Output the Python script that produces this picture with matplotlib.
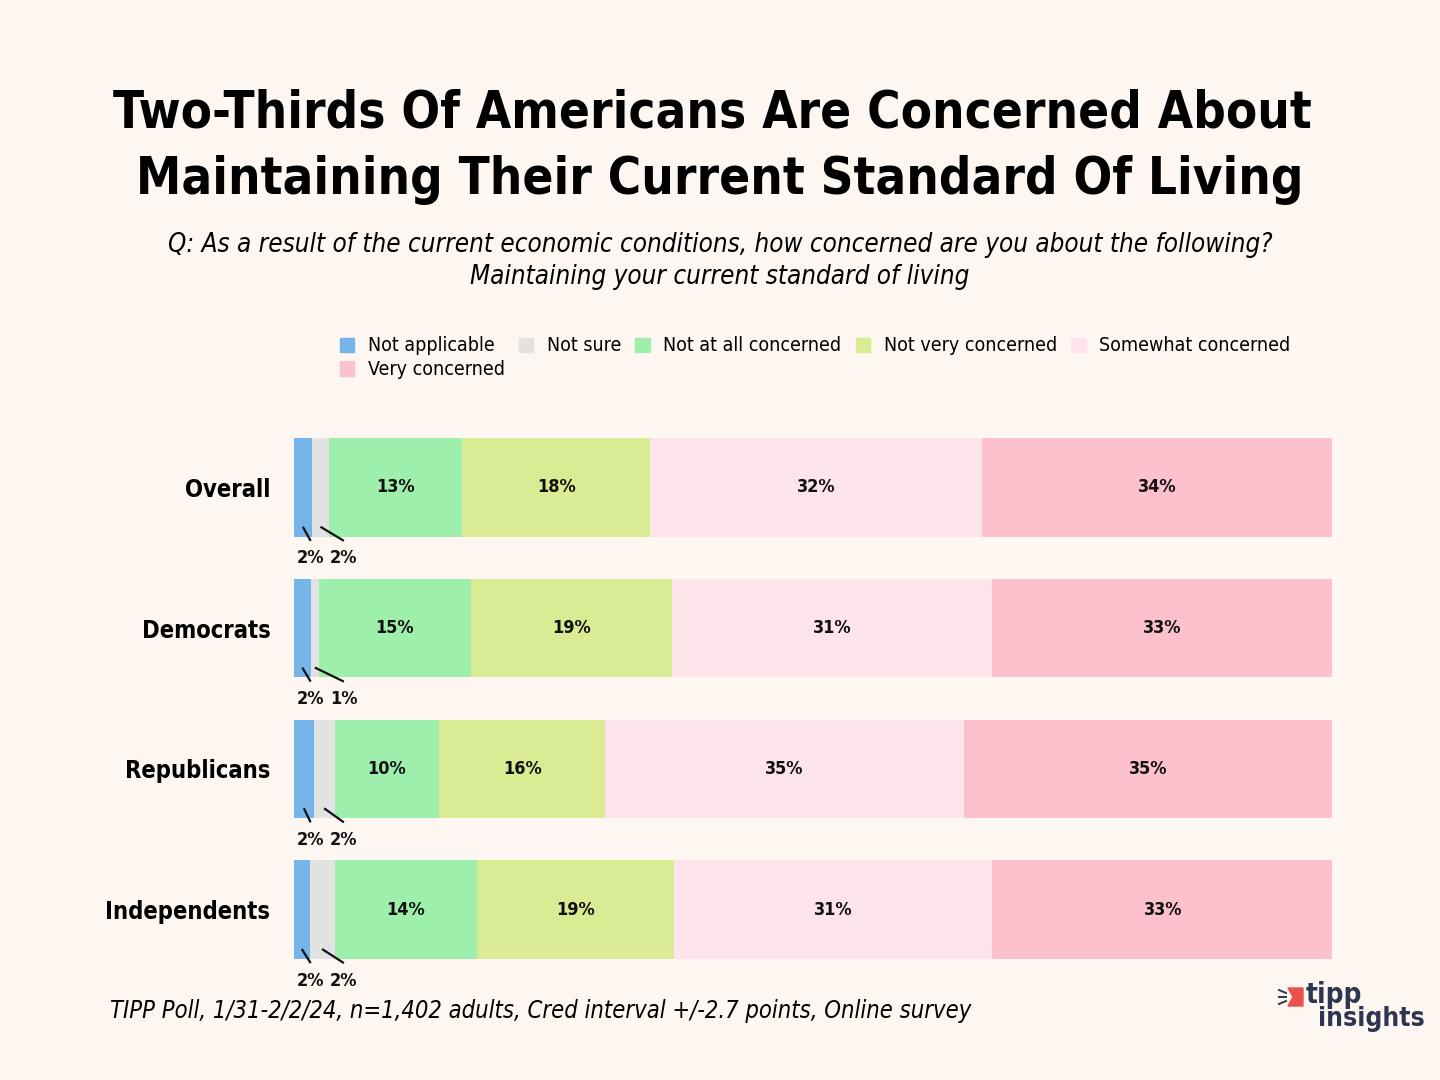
import matplotlib
matplotlib.use("Agg")
import matplotlib.pyplot as plt
import matplotlib.patches as mpatches
import numpy as np

plt.rcParams['font.family'] = ['DejaVu Sans']
plt.rcParams['font.stretch'] = 'condensed'

# data (percent of respondents)
groups = ["Overall", "Democrats", "Republicans", "Independents"]
answers = ["Not applicable", "Not sure", "Not at all concerned",
           "Not very concerned", "Somewhat concerned", "Very concerned"]
not_applicable = [1.7, 1.6, 1.9, 1.5]
not_sure = [1.7, 0.8, 2.0, 2.4]
not_at_all = [12.8, 14.6, 10.1, 13.7]
not_very = [18.1, 19.4, 15.9, 19.0]
somewhat = [31.9, 30.8, 34.6, 30.6]
very = [33.7, 32.8, 35.4, 32.9]

colors = ["#76b5ea", "#e2e2e2", "#9defab", "#d9ec94", "#fde4ea", "#fdc0cd"]
bg = "#fdf6f1"

series = [not_applicable, not_sure, not_at_all, not_very, somewhat, very]

fig = plt.figure(figsize=(14.4, 10.8), dpi=100, facecolor=bg)
ax = fig.add_axes([294/1440, 1 - 980/1080, 1038/1440, 563/1080])
ax.set_facecolor(bg)

y = np.arange(len(groups))
bar_h = 0.70
left = np.zeros(len(groups))
for vals, col, name in zip(series, colors, answers):
    vals = np.array(vals)
    ax.barh(y, vals, left=left, height=bar_h, color=col, label=name)
    for i, v in enumerate(vals):
        if v >= 5:
            ax.text(left[i] + v / 2, y[i], f"{round(v)}%", ha='center', va='center',
                    fontsize=13, fontweight='bold', color='#111111')
    left = left + vals

# small segments: leader lines + labels under the bar
lab_x = [1.6, 4.8]
for i in range(len(groups)):
    starts = [0, not_applicable[i]]
    for k, vals in enumerate([not_applicable, not_sure]):
        c = starts[k] + vals[i] / 2
        ax.plot([c, lab_x[k]], [y[i] + 0.28, y[i] + 0.38], color='#111111', lw=1.6,
                solid_capstyle='butt')
        ax.text(lab_x[k], y[i] + 0.505, f"{round(vals[i])}%", ha='center', va='center',
                fontsize=13, fontweight='bold', color='#111111')

ax.set_xlim(0, sum(s[0] for s in series))
ax.set_ylim(len(groups) - 0.5, -0.5)
ax.set_yticks(y)
ax.set_yticklabels(groups, fontsize=17, fontweight='bold')
ax.tick_params(axis='y', length=0, pad=17)
ax.set_xticks([])
for s in ax.spines.values():
    s.set_visible(False)

# legend (ordered so the sixth entry wraps under the first)
order = [0, 5, 1, 2, 3, 4]
handles = [mpatches.Patch(color=colors[k]) for k in order]
labels = [answers[k] for k in order]
fig.legend(handles, labels, ncol=5, loc='upper left', bbox_to_anchor=(322/1440, 1 - 319/1080),
           frameon=False, fontsize=14, handlelength=0.75, handleheight=0.75,
           handletextpad=0.7, columnspacing=0.72, labelspacing=0.25)

# titles
fig.text(0.4945, 1 - 113/1080, "Two-Thirds Of Americans Are Concerned About", ha='center', va='center',
         fontsize=36.5, fontweight='bold')
fig.text(0.5, 1 - 180/1080, "Maintaining Their Current Standard Of Living", ha='center', va='center',
         fontsize=36.5, fontweight='bold')
fig.text(0.5, 1 - 245/1080,
         "Q: As a result of the current economic conditions, how concerned are you about the following?",
         ha='center', va='center', fontsize=18.6, style='italic')
fig.text(0.5, 1 - 277/1080, "Maintaining your current standard of living",
         ha='center', va='center', fontsize=18.6, style='italic')

fig.text(110/1440, 1 - 1011/1080,
         "TIPP Poll, 1/31-2/2/24, n=1,402 adults, Cred interval +/-2.7 points, Online survey",
         ha='left', va='center', fontsize=17, style='italic')

# logo
navy = "#2e3550"
fig.patches.append(mpatches.Polygon([[1288/1440, 1 - 988/1080], [1303/1440, 1 - 988/1080],
                                     [1303/1440, 1 - 1006/1080], [1288/1440, 1 - 1006/1080],
                                     [1293/1440, 1 - 997/1080]],
                                    closed=True, transform=fig.transFigure, color="#e8524a"))
for y0, y1 in ((990, 993), (997, 997), (1004, 1001)):
    fig.lines.append(plt.Line2D([1279/1440, 1286/1440], [1 - y0 / 1080, 1 - y1 / 1080],
                                transform=fig.transFigure, color=navy, lw=1.4))
fig.text(1306/1440, 1 - 995/1080, "tipp", ha='left', va='center', fontsize=20,
         fontweight='bold', color=navy)
fig.text(1318/1440, 1 - 1019/1080, "insights", ha='left', va='center', fontsize=19,
         fontweight='bold', color=navy)

fig.savefig("out.png", dpi=100, facecolor=bg)
